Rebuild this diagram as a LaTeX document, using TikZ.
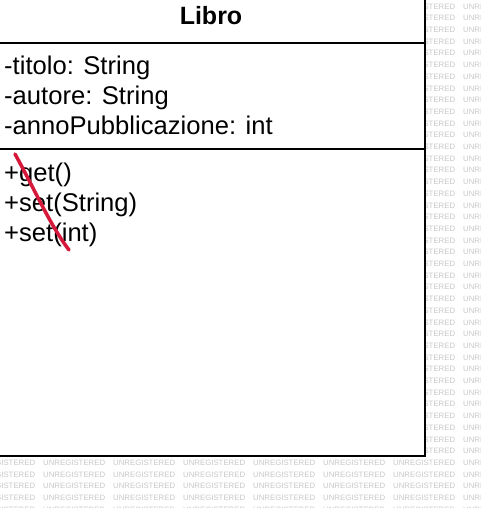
\documentclass[tikz,border=0pt]{standalone}
\usepackage{fontspec}
\setmainfont{Liberation Sans}
\definecolor{markred}{RGB}{214,24,58}
\begin{document}
\begin{tikzpicture}[x=1pt,y=-1pt,
    wm/.style={anchor=west, inner sep=0pt, text=black!22, font=\fontsize{7.8}{8}\selectfont},
    member/.style={anchor=base west, inner sep=0pt, font=\fontsize{25.6}{28}\selectfont}]
  \useasboundingbox (0,0) rectangle (481,508);
  % watermark
  \foreach \r in {0,...,43}
    \foreach \c in {-1,...,6}
      \node[wm] (wm-\r-\c) at (43+70*\c, 6.5+11.7*\r) {UNREGISTERED};
  % class box
  \draw[line width=2pt, fill=white] (-2,-2) rectangle (425,456);
  \draw[line width=2pt] (-2,43) -- (425,43);
  \draw[line width=2pt] (-2,149) -- (425,149);
  \node[anchor=base, inner sep=0pt, font=\bfseries\fontsize{25}{28}\selectfont] (name) at (211,25) {Libro};
  \node[member] (titolo) at (4,75) {-titolo: String};
  \node[member] (autore) at (4,105) {-autore: String};
  \node[member] (anno) at (4,135) {-annoPubblicazione: int};
  \node[member] (get) at (4,181) {+get()};
  \node[member] (setstr) at (4,211) {+set(String)};
  \node[member] (setint) at (4,241) {+set(int)};
  % red stroke
  \draw[markred, line width=3.5pt, line cap=round] (15,154) .. controls (35,190) and (50,225) .. (69,250);
\end{tikzpicture}
\end{document}
